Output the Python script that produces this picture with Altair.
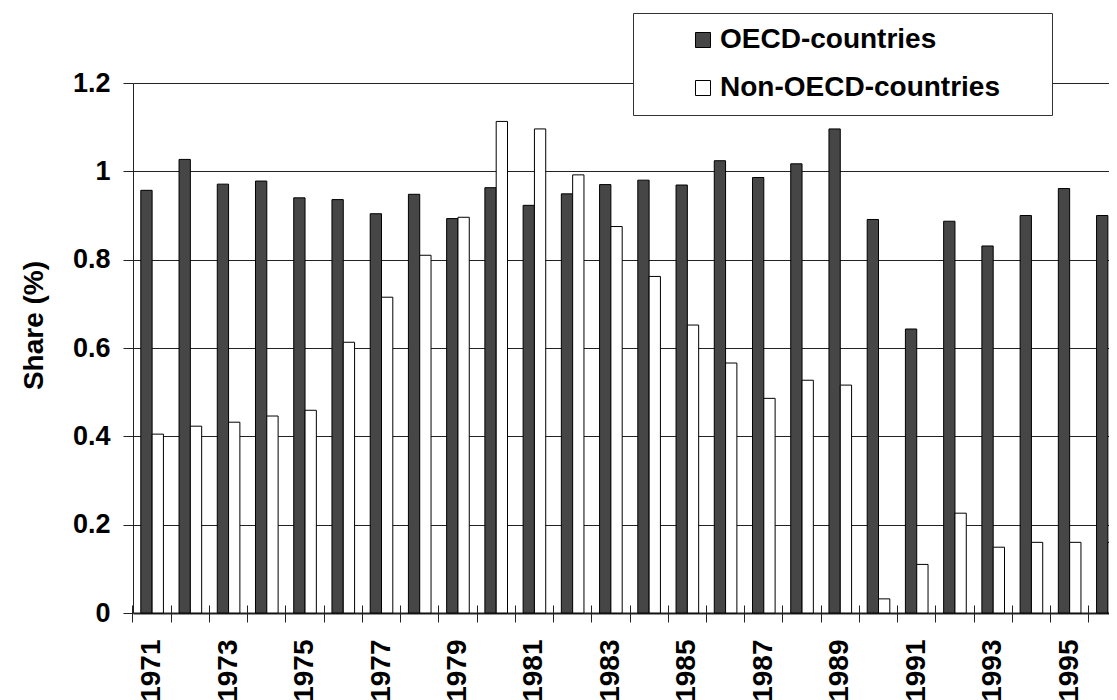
import altair as alt
import pandas as pd

years = ["1971", "1972", "1973", "1974", "1975", "1976", "1977", "1978", "1979", "1980",
         "1981", "1982", "1983", "1984", "1985", "1986", "1987", "1988", "1989", "1990",
         "1991", "1992", "1993", "1994", "1995", "1996"]
oecd = [0.957, 1.027, 0.971, 0.978, 0.940, 0.936, 0.904, 0.948, 0.893, 0.963,
        0.923, 0.949, 0.970, 0.980, 0.969, 1.024, 0.986, 1.017, 1.096, 0.891,
        0.643, 0.887, 0.831, 0.900, 0.961, 0.900]
non_oecd = [0.405, 0.423, 0.432, 0.446, 0.459, 0.613, 0.715, 0.810, 0.896, 1.113,
            1.096, 0.992, 0.875, 0.762, 0.652, 0.566, 0.486, 0.527, 0.516, 0.032,
            0.110, 0.226, 0.149, 0.160, 0.160, 0.160]
series_names = ["OECD-countries", "Non-OECD-countries"]
series_colors = ["#464646", "#ffffff"]
y_ticks = [0, 0.2, 0.4, 0.6, 0.8, 1.0, 1.2]

rows = []
for i, yr in enumerate(years):
    rows.append({"year": yr, "series": series_names[0], "value": oecd[i]})
    rows.append({"year": yr, "series": series_names[1], "value": non_oecd[i]})
df = pd.DataFrame(rows)

FONT = "Liberation Sans"
PAD_RIGHT = "\u00a0" * 5 + "\u200b"

chart = alt.Chart(df).mark_bar(stroke="black", strokeWidth=1).encode(
    x=alt.X(
        "year:N",
        sort=years,
        scale=alt.Scale(paddingInner=0, paddingOuter=0),
        axis=alt.Axis(
            title="",
            bandPosition=0,
            offset=-8,
            domain=False,
            grid=False,
            tickSize=17,
            tickColor="#222222",
            tickWidth=1,
            labelAngle=270,
            labelPadding=17,
            labelFont=FONT,
            labelFontSize=28,
            labelFontWeight="bold",
            labelColor="black",
            labelOverlap=False,
            labelExpr="(toNumber(datum.value) - 1971) % 2 === 0 ? datum.label : ''",
        ),
    ),
    xOffset=alt.XOffset(
        "series:N",
        sort=series_names,
        scale=alt.Scale(domain=series_names, paddingInner=0, paddingOuter=0.69),
    ),
    y=alt.Y(
        "value:Q",
        scale=alt.Scale(domain=[0, 1.2], nice=False),
        axis=alt.Axis(
            values=y_ticks,
            format="~g",
            grid=True,
            gridColor="#222222",
            gridWidth={"condition": {"test": "datum.value === 0", "value": 2}, "value": 1},
            domainColor="#222222",
            tickColor="#222222",
            tickSize=10,
            labelPadding=13,
            labelFont=FONT,
            labelFontSize=27,
            labelFontWeight="bold",
            labelColor="black",
            title="Share (%)",
            titleFont=FONT,
            titleFontSize=28,
            titleFontWeight="bold",
            titleColor="black",
            titleAngle=270,
            titleAlign="center",
            titleBaseline="alphabetic",
            titleX=-91,
            titleY=242,
        ),
    ),
    fill=alt.Fill(
        "series:N",
        sort=series_names,
        scale=alt.Scale(domain=series_names, range=series_colors),
        legend=alt.Legend(
            title="",
            orient="none",
            legendX=500,
            legendY=-70,
            direction="vertical",
            fillColor="white",
            strokeColor="#333333",
            padding=13,
            symbolType="square",
            symbolSize=225,
            symbolStrokeColor="black",
            symbolStrokeWidth=1,
            symbolOffset=43,
            labelFont=FONT,
            labelFontSize=28,
            labelFontWeight="bold",
            labelColor="black",
            labelOffset=3,
            labelLimit=800,
            rowPadding=20,
            labelExpr="datum.label + '" + PAD_RIGHT + "'",
        ),
    ),
).properties(
    width=994,
    height=530,
    padding={"left": 125, "top": 75, "right": -18, "bottom": 87},
    autosize=alt.AutoSizeParams(type="none"),
    background="white",
).configure_view(strokeOpacity=0)

chart.save("out.html", embed_options={"renderer": "svg", "actions": False})
